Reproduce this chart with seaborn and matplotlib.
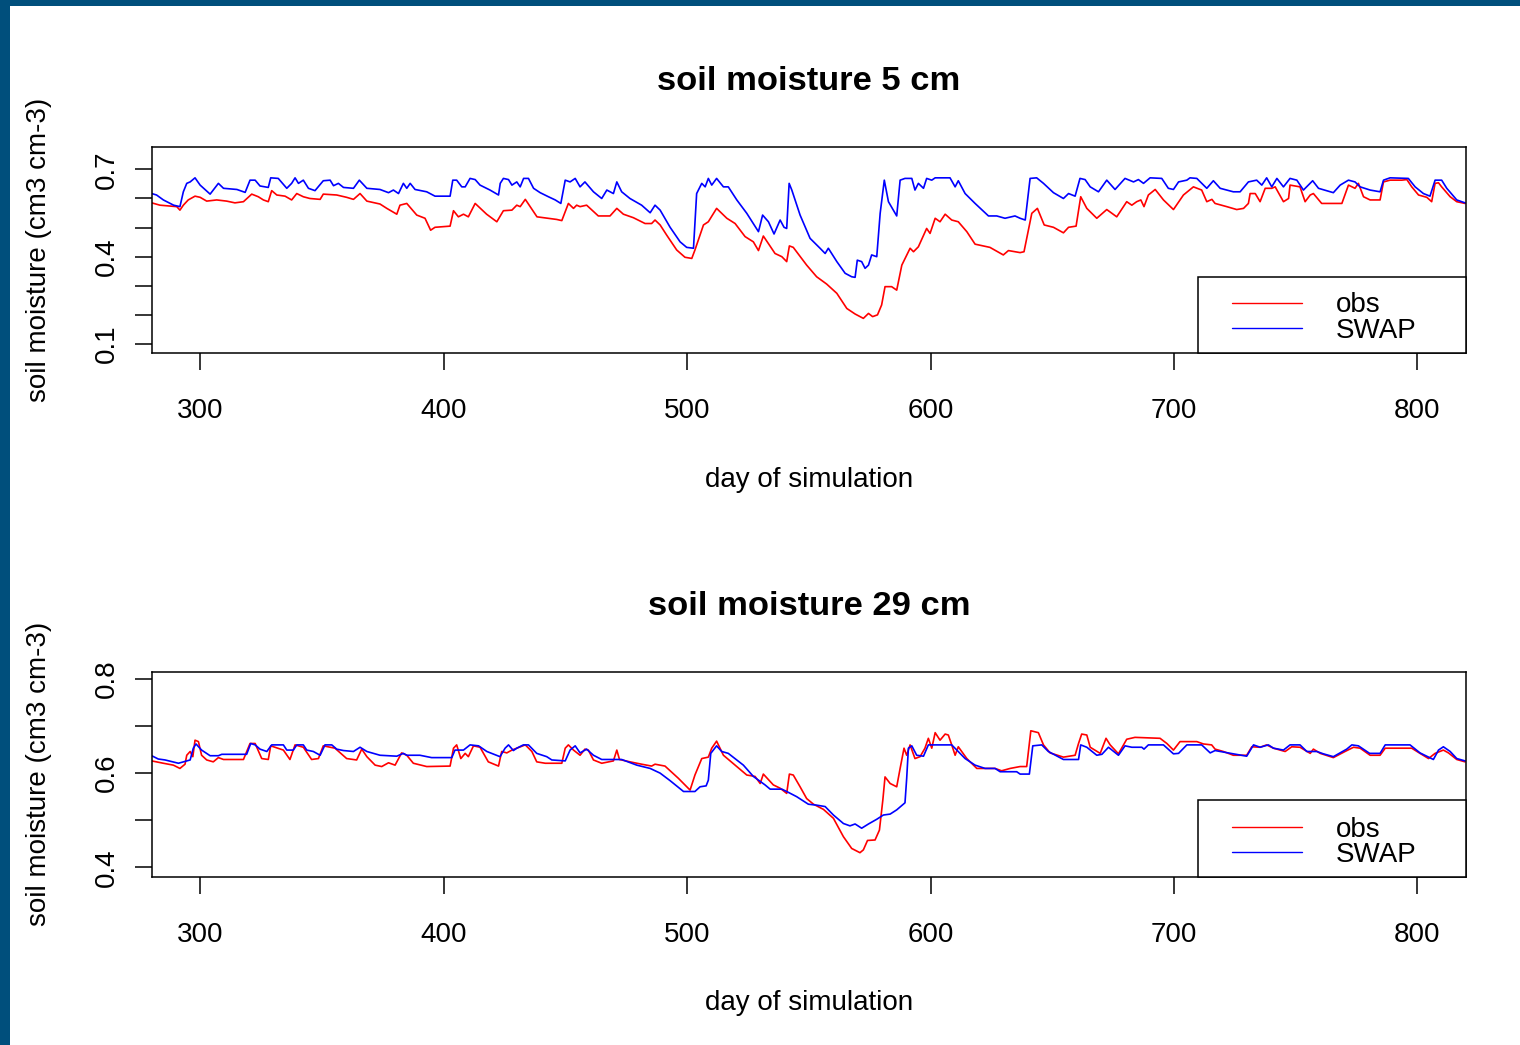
import matplotlib
matplotlib.use("Agg")
import matplotlib.pyplot as plt
import seaborn as sns
import pandas as pd
from matplotlib.patches import Rectangle
from matplotlib.lines import Line2D

# ---------------- data ----------------
titles = ["soil moisture 5 cm", "soil moisture 29 cm"]
series_names = ["obs", "SWAP"]
x_label = "day of simulation"
y_label = "soil moisture (cm3 cm-3)"
x_ticks = [300, 400, 500, 600, 700, 800]
x_tick_labels = ["300", "400", "500", "600", "700", "800"]
top_y_ticks = [0.1, 0.2, 0.3, 0.4, 0.5, 0.6, 0.7]
top_y_tick_labels = ["0.1", "", "", "0.4", "", "", "0.7"]
bot_y_ticks = [0.4, 0.5, 0.6, 0.7, 0.8]
bot_y_tick_labels = ["0.4", "", "0.6", "", "0.8"]

top_obs_day = [280.0, 283.4, 290.3, 291.6, 293.0, 295.0, 297.8, 299.9, 302.6, 306.7, 310.8, 314.2, 317.7,
               321.1, 323.8, 325.9, 327.9, 329.3, 331.4, 334.8, 337.5, 339.6, 342.3, 345.0, 349.2, 350.5,
               356.0, 360.1, 362.9, 365.6, 368.4, 373.8, 376.6, 380.7, 382.0, 384.8, 388.9, 392.3, 394.6,
               396.4, 402.6, 404.0, 406.0, 408.1, 410.1, 412.9, 417.6, 421.8, 424.5, 428.0, 430.0, 431.4,
               433.5, 435.5, 438.3, 446.4, 448.5, 451.2, 453.3, 454.6, 456.0, 458.7, 463.5, 468.3, 471.1,
               473.8, 477.9, 482.7, 485.4, 486.8, 488.9, 491.6, 495.7, 499.1, 501.9, 503.2, 506.7, 508.7,
               512.1, 516.3, 519.7, 523.8, 527.2, 529.3, 531.3, 536.1, 538.9, 540.9, 542.0, 543.6, 549.1,
               553.2, 557.3, 561.5, 565.6, 569.0, 572.4, 574.5, 576.2, 578.2, 579.9, 581.3, 584.0, 586.1,
               588.2, 591.6, 593.0, 595.0, 598.4, 599.8, 601.9, 603.9, 606.0, 608.7, 611.4, 614.9, 618.3,
               624.4, 629.9, 632.0, 636.8, 638.4, 641.6, 643.9, 646.7, 650.5, 654.6, 656.7, 659.8, 661.7,
               664.2, 668.3, 672.4, 676.5, 680.6, 682.7, 684.7, 686.4, 687.7, 689.5, 692.3, 695.7, 699.8,
               703.9, 708.0, 711.4, 713.5, 715.6, 716.9, 721.7, 725.8, 728.6, 730.6, 731.3, 733.4, 735.4,
               737.5, 740.2, 741.6, 745.0, 747.1, 747.7, 751.8, 753.9, 756.0, 757.3, 760.7, 769.0, 771.7,
               774.4, 775.8, 777.9, 780.6, 784.7, 786.1, 788.8, 793.6, 795.7, 797.7, 800.5, 803.9, 805.9,
               807.3, 808.7, 810.0, 813.5, 816.2, 819.6]
top_obs_val = [0.585, 0.577, 0.572, 0.560, 0.577, 0.595, 0.608, 0.604, 0.591, 0.595, 0.591, 0.585, 0.589,
               0.615, 0.606, 0.595, 0.589, 0.627, 0.612, 0.608, 0.595, 0.617, 0.606, 0.600, 0.597, 0.615,
               0.612, 0.604, 0.597, 0.617, 0.591, 0.581, 0.566, 0.546, 0.577, 0.583, 0.543, 0.532, 0.491,
               0.501, 0.505, 0.558, 0.537, 0.546, 0.537, 0.583, 0.546, 0.520, 0.558, 0.560, 0.577, 0.572,
               0.597, 0.572, 0.537, 0.528, 0.524, 0.583, 0.566, 0.577, 0.572, 0.577, 0.540, 0.540, 0.566,
               0.546, 0.534, 0.514, 0.514, 0.526, 0.509, 0.474, 0.423, 0.398, 0.394, 0.423, 0.509, 0.520,
               0.566, 0.532, 0.514, 0.469, 0.451, 0.421, 0.471, 0.411, 0.400, 0.383, 0.437, 0.432, 0.371,
               0.331, 0.306, 0.274, 0.222, 0.203, 0.188, 0.205, 0.194, 0.200, 0.234, 0.297, 0.297, 0.285,
               0.371, 0.429, 0.417, 0.434, 0.497, 0.480, 0.532, 0.520, 0.546, 0.526, 0.520, 0.486, 0.443,
               0.432, 0.406, 0.421, 0.414, 0.417, 0.549, 0.566, 0.509, 0.501, 0.482, 0.501, 0.505, 0.606,
               0.566, 0.532, 0.562, 0.537, 0.589, 0.577, 0.589, 0.595, 0.572, 0.612, 0.631, 0.595, 0.562,
               0.612, 0.640, 0.629, 0.589, 0.597, 0.583, 0.572, 0.562, 0.566, 0.583, 0.617, 0.617, 0.589,
               0.635, 0.635, 0.640, 0.589, 0.600, 0.646, 0.640, 0.589, 0.612, 0.617, 0.583, 0.583, 0.646,
               0.635, 0.652, 0.606, 0.595, 0.595, 0.657, 0.663, 0.663, 0.665, 0.640, 0.612, 0.604, 0.589,
               0.652, 0.654, 0.640, 0.606, 0.589, 0.583]

top_swap_day = [280.0, 282.0, 284.8, 289.0, 291.6, 293.0, 294.4, 295.8, 297.8, 299.9, 304.0, 307.4, 309.5,
                315.0, 318.4, 320.4, 322.5, 324.5, 327.9, 328.9, 332.0, 335.5, 337.5, 338.9, 340.3, 342.3,
                344.4, 347.1, 350.5, 353.3, 354.7, 356.7, 358.8, 362.9, 365.3, 368.4, 373.8, 377.3, 379.3,
                381.4, 383.4, 384.8, 386.2, 388.2, 393.0, 396.4, 402.6, 403.7, 405.3, 407.4, 408.8, 410.8,
                412.9, 414.9, 419.0, 422.5, 423.2, 424.5, 426.6, 428.0, 430.0, 431.4, 432.8, 434.8, 436.9,
                439.6, 443.0, 445.8, 448.1, 449.9, 451.9, 454.0, 456.0, 458.0, 461.5, 464.9, 467.0, 469.7,
                471.1, 473.1, 476.5, 481.3, 484.8, 486.8, 488.9, 493.0, 497.1, 499.8, 502.6, 503.9, 506.0,
                507.4, 508.7, 510.1, 512.1, 514.9, 516.9, 520.4, 524.5, 529.3, 531.0, 533.4, 535.7, 538.2,
                539.8, 540.9, 541.9, 543.0, 546.4, 550.5, 554.6, 556.7, 558.0, 561.5, 564.9, 567.6, 569.0,
                569.9, 571.7, 573.1, 574.5, 575.8, 577.9, 579.3, 581.0, 582.7, 586.1, 587.5, 589.5, 592.3,
                593.6, 595.0, 597.1, 598.4, 600.5, 601.9, 608.0, 610.1, 611.4, 614.2, 618.3, 623.8, 627.2,
                630.6, 634.7, 636.8, 638.9, 640.9, 643.6, 646.4, 650.5, 654.6, 656.7, 659.4, 661.4, 663.5,
                665.6, 669.0, 672.4, 675.8, 679.9, 683.4, 685.4, 687.5, 690.2, 695.0, 697.7, 699.8, 701.9,
                705.3, 706.6, 709.4, 713.5, 716.2, 719.0, 724.4, 727.2, 730.6, 734.0, 736.1, 738.1, 740.2,
                742.3, 745.0, 747.7, 750.5, 753.2, 757.0, 759.4, 765.5, 768.3, 771.7, 774.4, 776.5, 780.6,
                784.7, 786.1, 788.8, 796.3, 799.1, 802.5, 805.2, 807.3, 810.0, 812.1, 816.2, 819.6]
top_swap_val = [0.617, 0.612, 0.595, 0.577, 0.572, 0.623, 0.652, 0.657, 0.671, 0.646, 0.615, 0.652, 0.635,
                0.631, 0.621, 0.663, 0.663, 0.643, 0.638, 0.671, 0.669, 0.635, 0.652, 0.671, 0.652, 0.663,
                0.635, 0.627, 0.661, 0.663, 0.644, 0.652, 0.638, 0.635, 0.663, 0.635, 0.631, 0.620, 0.629,
                0.617, 0.652, 0.635, 0.652, 0.631, 0.623, 0.608, 0.608, 0.663, 0.663, 0.640, 0.640, 0.669,
                0.665, 0.646, 0.629, 0.612, 0.652, 0.669, 0.665, 0.646, 0.657, 0.640, 0.669, 0.669, 0.635,
                0.620, 0.606, 0.595, 0.583, 0.663, 0.657, 0.669, 0.640, 0.657, 0.623, 0.600, 0.629, 0.617,
                0.657, 0.623, 0.600, 0.577, 0.551, 0.577, 0.560, 0.501, 0.451, 0.432, 0.429, 0.617, 0.652,
                0.640, 0.669, 0.646, 0.669, 0.640, 0.640, 0.595, 0.549, 0.486, 0.543, 0.520, 0.478, 0.526,
                0.501, 0.497, 0.652, 0.629, 0.543, 0.463, 0.429, 0.411, 0.429, 0.383, 0.343, 0.331, 0.329,
                0.388, 0.383, 0.360, 0.371, 0.406, 0.400, 0.549, 0.663, 0.589, 0.540, 0.663, 0.669, 0.669,
                0.629, 0.652, 0.635, 0.669, 0.663, 0.671, 0.671, 0.640, 0.661, 0.617, 0.583, 0.540, 0.540,
                0.532, 0.540, 0.532, 0.526, 0.669, 0.671, 0.652, 0.620, 0.600, 0.617, 0.608, 0.669, 0.665,
                0.640, 0.623, 0.663, 0.631, 0.669, 0.657, 0.665, 0.652, 0.671, 0.669, 0.635, 0.631, 0.657,
                0.663, 0.671, 0.669, 0.635, 0.661, 0.635, 0.623, 0.623, 0.657, 0.663, 0.646, 0.671, 0.640,
                0.669, 0.640, 0.669, 0.663, 0.629, 0.661, 0.635, 0.620, 0.646, 0.663, 0.657, 0.640, 0.629,
                0.623, 0.663, 0.671, 0.669, 0.640, 0.617, 0.608, 0.663, 0.663, 0.635, 0.595, 0.585]

bot_obs_day = [280.0, 284.8, 288.9, 291.6, 293.7, 294.4, 295.8, 296.9, 297.8, 299.2, 300.5, 302.6, 305.3,
               307.4, 309.5, 317.7, 320.4, 322.5, 325.2, 327.9, 328.9, 334.1, 336.8, 338.9, 342.3, 345.7,
               348.5, 350.5, 355.3, 360.1, 364.2, 366.3, 368.4, 371.8, 374.5, 377.3, 380.0, 382.7, 384.8,
               387.5, 393.0, 402.6, 404.0, 405.3, 407.0, 408.8, 410.1, 412.2, 414.9, 418.3, 422.5, 423.8,
               425.9, 428.0, 430.0, 433.5, 436.2, 438.2, 441.7, 448.5, 449.9, 451.2, 453.3, 456.0, 458.0,
               459.4, 461.5, 464.9, 469.7, 471.1, 472.2, 476.5, 481.3, 485.4, 486.8, 490.9, 496.4, 501.2,
               503.2, 506.0, 508.7, 510.1, 512.1, 513.5, 514.9, 520.4, 524.5, 527.9, 530.0, 531.3, 535.4,
               538.2, 540.9, 542.0, 543.6, 546.4, 549.1, 551.9, 556.0, 560.1, 564.2, 567.6, 571.0, 572.4,
               574.1, 577.2, 579.0, 580.4, 581.3, 583.4, 586.1, 587.5, 589.1, 590.2, 591.6, 593.6, 595.7,
               597.7, 599.1, 600.5, 601.9, 603.9, 606.0, 607.3, 608.7, 610.1, 611.4, 614.9, 619.0, 626.5,
               629.2, 632.7, 636.8, 639.5, 641.2, 644.3, 646.4, 649.1, 654.6, 659.4, 660.8, 662.1, 664.2,
               665.6, 669.7, 672.1, 673.8, 677.2, 680.6, 684.0, 694.3, 697.1, 699.8, 702.5, 709.4, 712.1,
               715.5, 716.9, 720.3, 724.4, 729.9, 732.0, 735.4, 738.1, 740.9, 745.7, 748.4, 751.8, 756.0,
               757.3, 760.1, 765.5, 770.3, 773.8, 776.5, 780.6, 784.7, 786.8, 797.7, 801.1, 804.6, 807.3,
               810.7, 812.8, 816.2, 819.6]
bot_obs_val = [0.626, 0.621, 0.617, 0.610, 0.619, 0.638, 0.646, 0.635, 0.670, 0.667, 0.638, 0.628, 0.624,
               0.633, 0.629, 0.629, 0.663, 0.663, 0.631, 0.629, 0.658, 0.649, 0.629, 0.660, 0.655, 0.629,
               0.631, 0.658, 0.653, 0.631, 0.628, 0.651, 0.635, 0.617, 0.614, 0.622, 0.617, 0.643, 0.638,
               0.621, 0.614, 0.615, 0.653, 0.660, 0.631, 0.642, 0.635, 0.658, 0.655, 0.624, 0.615, 0.646,
               0.643, 0.649, 0.653, 0.660, 0.646, 0.624, 0.621, 0.621, 0.653, 0.660, 0.649, 0.638, 0.651,
               0.649, 0.628, 0.621, 0.626, 0.649, 0.629, 0.624, 0.619, 0.615, 0.619, 0.615, 0.589, 0.564,
               0.596, 0.631, 0.634, 0.653, 0.668, 0.653, 0.638, 0.614, 0.596, 0.593, 0.578, 0.598, 0.575,
               0.568, 0.557, 0.598, 0.596, 0.571, 0.546, 0.534, 0.523, 0.504, 0.465, 0.440, 0.431, 0.437,
               0.457, 0.458, 0.479, 0.543, 0.592, 0.578, 0.571, 0.610, 0.653, 0.638, 0.660, 0.631, 0.635,
               0.653, 0.674, 0.653, 0.686, 0.670, 0.683, 0.681, 0.660, 0.638, 0.656, 0.631, 0.610, 0.610,
               0.605, 0.610, 0.614, 0.614, 0.690, 0.686, 0.660, 0.643, 0.634, 0.638, 0.663, 0.683, 0.681,
               0.655, 0.642, 0.674, 0.660, 0.641, 0.672, 0.676, 0.674, 0.663, 0.649, 0.667, 0.667, 0.662,
               0.660, 0.651, 0.646, 0.638, 0.638, 0.656, 0.655, 0.660, 0.653, 0.646, 0.656, 0.655, 0.642,
               0.651, 0.642, 0.633, 0.646, 0.655, 0.653, 0.638, 0.638, 0.653, 0.653, 0.642, 0.631, 0.642,
               0.649, 0.643, 0.629, 0.624]

bot_swap_day = [280.0, 282.7, 285.5, 291.0, 293.0, 295.8, 297.1, 298.2, 300.5, 304.0, 307.4, 308.8, 319.0,
                320.7, 322.5, 324.5, 327.3, 329.3, 334.1, 335.5, 338.2, 339.6, 342.3, 343.7, 346.4, 349.2,
                351.2, 354.0, 356.0, 358.8, 362.9, 365.6, 368.4, 373.8, 380.7, 383.4, 384.8, 390.2, 395.0,
                403.3, 404.6, 408.1, 410.8, 414.3, 417.7, 423.1, 425.2, 426.6, 428.6, 430.0, 432.7, 434.8,
                438.2, 442.3, 444.4, 449.9, 451.9, 454.0, 456.0, 458.7, 461.5, 464.9, 473.1, 479.3, 484.8,
                488.9, 493.0, 498.5, 503.2, 505.3, 507.8, 508.7, 509.7, 512.1, 514.2, 516.9, 520.4, 523.1,
                527.2, 532.0, 534.1, 538.9, 540.9, 545.0, 549.8, 553.2, 556.7, 560.1, 564.2, 566.9, 569.0,
                571.7, 574.5, 577.9, 580.6, 583.4, 586.1, 589.5, 590.2, 590.9, 592.3, 594.3, 597.1, 599.1,
                608.7, 610.8, 614.2, 618.3, 622.4, 626.5, 628.6, 635.4, 636.8, 640.6, 642.0, 645.7, 648.4,
                654.6, 660.8, 661.7, 664.2, 668.3, 670.4, 673.1, 677.2, 679.9, 682.7, 686.8, 687.7, 689.5,
                695.7, 699.8, 701.9, 705.3, 711.4, 714.9, 716.9, 719.0, 724.4, 729.9, 732.7, 735.4, 738.8,
                740.9, 745.0, 747.7, 751.8, 754.6, 758.7, 761.4, 765.5, 771.0, 773.1, 775.8, 780.4, 784.7,
                786.8, 797.0, 801.1, 806.6, 808.7, 810.7, 813.5, 816.2, 819.6]
bot_swap_val = [0.637, 0.630, 0.628, 0.621, 0.624, 0.628, 0.653, 0.662, 0.649, 0.637, 0.637, 0.640, 0.640,
                0.663, 0.660, 0.651, 0.646, 0.660, 0.660, 0.649, 0.649, 0.660, 0.660, 0.649, 0.646, 0.638,
                0.660, 0.660, 0.651, 0.648, 0.646, 0.655, 0.646, 0.638, 0.636, 0.642, 0.638, 0.638, 0.633,
                0.633, 0.649, 0.649, 0.660, 0.658, 0.646, 0.635, 0.653, 0.660, 0.648, 0.653, 0.660, 0.660,
                0.642, 0.635, 0.628, 0.626, 0.649, 0.658, 0.643, 0.651, 0.638, 0.629, 0.629, 0.617, 0.610,
                0.600, 0.584, 0.561, 0.561, 0.571, 0.573, 0.585, 0.642, 0.658, 0.646, 0.642, 0.628, 0.617,
                0.593, 0.575, 0.566, 0.566, 0.561, 0.550, 0.534, 0.532, 0.529, 0.511, 0.493, 0.488, 0.492,
                0.483, 0.492, 0.502, 0.511, 0.513, 0.522, 0.537, 0.589, 0.653, 0.658, 0.638, 0.636, 0.660,
                0.660, 0.649, 0.631, 0.617, 0.610, 0.610, 0.603, 0.603, 0.598, 0.598, 0.658, 0.660, 0.646,
                0.629, 0.629, 0.660, 0.655, 0.638, 0.640, 0.655, 0.638, 0.658, 0.655, 0.655, 0.651, 0.660,
                0.660, 0.641, 0.642, 0.660, 0.660, 0.643, 0.648, 0.646, 0.641, 0.636, 0.660, 0.655, 0.660,
                0.653, 0.649, 0.660, 0.660, 0.646, 0.646, 0.641, 0.635, 0.651, 0.660, 0.658, 0.642, 0.642,
                0.660, 0.660, 0.643, 0.629, 0.649, 0.656, 0.646, 0.631, 0.626]

# ---------------- style ----------------
sns.set_theme(style="white")
plt.rcParams["font.family"] = ["Liberation Sans", "DejaVu Sans"]
plt.rcParams["text.color"] = "black"
plt.rcParams["axes.labelcolor"] = "black"

W, H = 1520, 1045
fig = plt.figure(figsize=(W / 100, H / 100), dpi=100)
fig.patch.set_facecolor("white")
border = "#004f7c"
fig.patches.append(Rectangle((0, 1 - 6 / H), 1, 6 / H, transform=fig.transFigure,
                             facecolor=border, edgecolor="none", zorder=0))
fig.patches.append(Rectangle((0, 0), 10 / W, 1, transform=fig.transFigure,
                             facecolor=border, edgecolor="none", zorder=0))

obs_color = "#ff0000"
swap_color = "#0000ff"

panels = [
    dict(title=titles[0], obs=(top_obs_day, top_obs_val), swap=(top_swap_day, top_swap_val),
         ylim=(0.070, 0.778), yticks=top_y_ticks, ylabels=top_y_tick_labels,
         rect=(151.7 / W, 1 - 352.7 / H, 1314.3 / W, 206 / H), leg_h=0.369),
    dict(title=titles[1], obs=(bot_obs_day, bot_obs_val), swap=(bot_swap_day, bot_swap_val),
         ylim=(0.380, 0.8155), yticks=bot_y_ticks, ylabels=bot_y_tick_labels,
         rect=(151.7 / W, 1 - 876.7 / H, 1314.3 / W, 205 / H), leg_h=0.375),
]

for p in panels:
    ax = fig.add_axes(p["rect"])
    ax.set_facecolor("white")
    df_obs = pd.DataFrame({"day": p["obs"][0], "value": p["obs"][1]})
    df_swap = pd.DataFrame({"day": p["swap"][0], "value": p["swap"][1]})
    sns.lineplot(data=df_obs, x="day", y="value", color=obs_color, linewidth=1.2,
                 estimator=None, ax=ax, label=series_names[0])
    sns.lineplot(data=df_swap, x="day", y="value", color=swap_color, linewidth=1.2,
                 estimator=None, ax=ax, label=series_names[1])
    ax.set_xlim(280, 820)
    ax.set_ylim(*p["ylim"])
    ax.set_xticks(x_ticks)
    ax.set_xticklabels(x_tick_labels)
    ax.set_yticks(p["yticks"])
    ax.set_yticklabels(p["ylabels"])
    ax.tick_params(axis="both", direction="out", length=12, width=1.1, labelsize=20,
                   colors="black", left=True, bottom=True)
    ax.tick_params(axis="x", pad=20.5)
    ax.tick_params(axis="y", pad=11)
    for lab in ax.get_yticklabels():
        lab.set_rotation(90)
        lab.set_va("center")
    for sp in ax.spines.values():
        sp.set_visible(True)
        sp.set_linewidth(1.1)
        sp.set_color("black")
    ax.set_title(p["title"], fontsize=24.8, fontweight="bold", pad=41)
    ax.set_xlabel(x_label, fontsize=20)
    ax.xaxis.set_label_coords(0.5, -0.554)
    ax.set_ylabel(y_label, fontsize=20)
    ax.yaxis.set_label_coords(-0.0759, 0.5)

    # legend frame and entries
    ax.add_patch(Rectangle((0.796, 0), 0.204, p["leg_h"], transform=ax.transAxes,
                           facecolor="white", edgecolor="black", linewidth=1.1, zorder=4,
                           clip_on=False))
    handles = [Line2D([], [], color=obs_color, linewidth=1.0),
               Line2D([], [], color=swap_color, linewidth=1.0)]
    leg = ax.legend(handles, series_names, loc="upper left", bbox_to_anchor=(0.822, 0.2926),
                    frameon=False, fontsize=20, handlelength=2.52, handletextpad=1.22,
                    labelspacing=-0.03, borderpad=0, borderaxespad=0)
    leg.set_zorder(5)

fig.savefig("out.png", dpi=100, facecolor=fig.get_facecolor())
